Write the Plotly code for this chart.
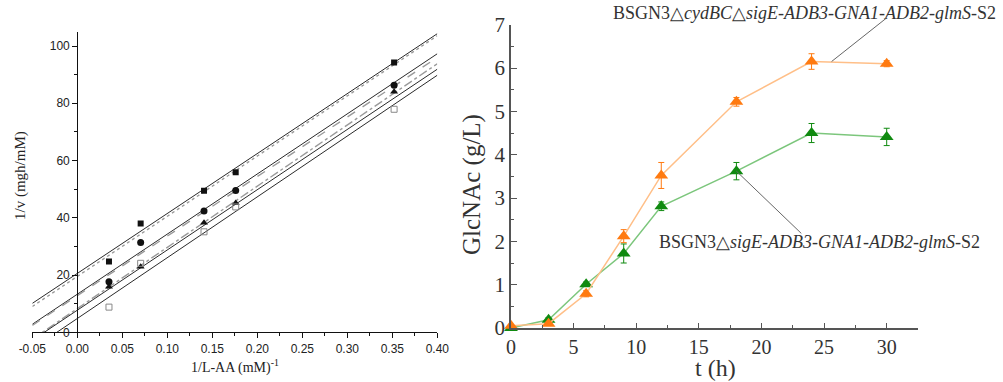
import numpy as np
import plotly.graph_objects as go

# ---------------- Left panel: Lineweaver-Burk data ----------------
inv_s = [0.0352, 0.0704, 0.1408, 0.1760, 0.3520]          # 1/L-AA (mM)^-1
inv_v_sq_fill = [24.7, 38.0, 49.4, 55.9, 94.2]            # filled squares
inv_v_circle = [17.7, 31.4, 42.4, 49.5, 86.3]              # filled circles
inv_v_triangle = [15.9, 22.9, 38.3, 45.2, 84.0]            # filled triangles
inv_v_sq_open = [8.8, 24.1, 35.1, 43.8, 77.9]              # open squares

# fitted lines, value at the left and right end of the x range
line_x = [-0.05, 0.40]
line_y_left = [10.1, 9.0, 2.8, 2.4, -2.4, -2.8, -5.8]
line_y_right = [104.3, 103.6, 97.3, 96.0, 93.8, 91.9, 89.8]
line_kind = ["solid", "dot", "solid", "dash", "dashdot", "solid", "solid"]

lb_xticks = [-0.05, 0.00, 0.05, 0.10, 0.15, 0.20, 0.25, 0.30, 0.35, 0.40]
lb_xticktext = ["-0.05", "0.00", "0.05", "0.10", "0.15", "0.20", "0.25", "0.30", "0.35", "0.40"]
lb_xminor = [-0.025, 0.025, 0.075, 0.125, 0.175, 0.225, 0.275, 0.325, 0.375]
lb_yticks = [0, 20, 40, 60, 80, 100]

# ---------------- Right panel: GlcNAc time course ----------------
t_h = [0, 3, 6, 9, 12, 18, 24, 30]
glc_cyd = [0.05, 0.10, 0.79, 2.12, 3.52, 5.22, 6.15, 6.10]
err_cyd = [0.02, 0.04, 0.07, 0.15, 0.30, 0.10, 0.18, 0.07]
glc_sig = [0.00, 0.19, 1.01, 1.72, 2.81, 3.62, 4.50, 4.41]
err_sig = [0.00, 0.05, 0.05, 0.22, 0.10, 0.20, 0.22, 0.20]

label_cyd = "BSGN3△<i>cydBC</i>△<i>sigE-ADB3-GNA1-ADB2-glmS</i>-S2"
label_sig = "BSGN3△<i>sigE-ADB3-GNA1-ADB2-glmS</i>-S2"

W, H = 1003, 382
def px(x):
    return x / W
def py(y):
    return (H - y) / H

fig = go.Figure()

# ---- left panel lines
for yl, yr, kind in zip(line_y_left, line_y_right, line_kind):
    solid = kind == "solid"
    fig.add_trace(go.Scatter(
        x=line_x, y=[yl, yr], mode="lines", xaxis="x", yaxis="y",
        line=dict(color="#2a2a2a" if solid else "#9a9a9a", width=1.0 if solid else 1.4, dash=kind),
        showlegend=False, hoverinfo="skip"))

# ---- left panel markers
fig.add_trace(go.Scatter(x=inv_s, y=inv_v_sq_fill, mode="markers", xaxis="x", yaxis="y",
                         marker=dict(symbol="square", size=6, color="#111"), showlegend=False))
fig.add_trace(go.Scatter(x=inv_s, y=inv_v_circle, mode="markers", xaxis="x", yaxis="y",
                         marker=dict(symbol="circle", size=7, color="#111"), showlegend=False))
fig.add_trace(go.Scatter(x=inv_s, y=inv_v_triangle, mode="markers", xaxis="x", yaxis="y",
                         marker=dict(symbol="triangle-up", size=7, color="#111"), showlegend=False))
fig.add_trace(go.Scatter(x=inv_s, y=inv_v_sq_open, mode="markers", xaxis="x", yaxis="y",
                         marker=dict(symbol="square-open", size=6, color="#888", line=dict(width=1)),
                         showlegend=False))

# ---- right panel series
fig.add_trace(go.Scatter(
    x=t_h, y=glc_sig, mode="lines+markers", xaxis="x2", yaxis="y2",
    line=dict(color="#7cc67c", width=1.5),
    marker=dict(symbol="triangle-up", size=12, color="#108a10"),
    error_y=dict(type="data", array=err_sig, color="#108a10", thickness=1, width=3),
    cliponaxis=False, showlegend=False))
fig.add_trace(go.Scatter(
    x=t_h, y=glc_cyd, mode="lines+markers", xaxis="x2", yaxis="y2",
    line=dict(color="#ffbf88", width=1.5),
    marker=dict(symbol="triangle-up", size=12, color="#ff7a10"),
    error_y=dict(type="data", array=err_cyd, color="#ff7a10", thickness=1, width=3),
    cliponaxis=False, showlegend=False))

serif = "Liberation Serif"
sans = "Liberation Sans"

fig.update_layout(
    width=W, height=H, margin=dict(l=0, r=0, t=0, b=0),
    paper_bgcolor="white", plot_bgcolor="white", showlegend=False,
    xaxis=dict(domain=[px(32.3), px(437.3)], range=[-0.05, 0.40], anchor="y",
               tickmode="array", tickvals=lb_xticks, ticktext=lb_xticktext,
               ticks="outside", ticklen=5, tickwidth=1, tickcolor="#111",
               minor=dict(tickmode="array", tickvals=lb_xminor, ticks="outside", ticklen=3, tickcolor="#111"),
               showline=True, linecolor="#111", linewidth=1.3, showgrid=False, zeroline=False,
               tickfont=dict(family=sans, size=12, color="#222"), automargin=False),
    yaxis=dict(domain=[py(332.3), py(31.7)], range=[0, 105], anchor="free", position=px(77.3),
               tickmode="array", tickvals=lb_yticks,
               ticks="outside", ticklen=5, tickwidth=1, tickcolor="#111",
               minor=dict(dtick=10, ticks="outside", ticklen=3, tickcolor="#111"),
               showline=True, linecolor="#111", linewidth=1.3, showgrid=False, zeroline=False,
               tickfont=dict(family=sans, size=12, color="#222"), automargin=False),
    xaxis2=dict(domain=[px(511), px(918)], range=[0, 32.5], anchor="y2",
                tickmode="array", tickvals=[0, 5, 10, 15, 20, 25, 30],
                ticks="inside", ticklen=5, tickwidth=1, tickcolor="#555",
                minor=dict(dtick=2.5, ticks="inside", ticklen=3, tickcolor="#555"),
                showline=True, linecolor="#555", linewidth=1.5, showgrid=False, zeroline=False,
                tickfont=dict(family=serif, size=20, color="#333"), automargin=False),
    yaxis2=dict(domain=[py(328), py(24.7)], range=[0, 7], anchor="x2",
                tickmode="array", tickvals=[0, 1, 2, 3, 4, 5, 6, 7],
                ticks="inside", ticklen=6, tickwidth=1, tickcolor="#555",
                minor=dict(dtick=0.5, ticks="inside", ticklen=3, tickcolor="#555"),
                showline=True, linecolor="#555", linewidth=1.5, showgrid=False, zeroline=False,
                tickfont=dict(family=serif, size=21, color="#333"), automargin=False),
)

def title(text, x, y, size, angle=0, color="#222"):
    return dict(text=text, x=px(x), y=py(y), xref="paper", yref="paper",
                xanchor="center", yanchor="middle", textangle=angle,
                showarrow=False, font=dict(family=serif, size=size, color=color))

annotations = [
    title("1/v (mgh/mM)", 20, 176, 15, -90),
    title("1/L-AA (mM)<sup>-1</sup>", 235, 366, 14),
    title("GlcNAc (g/L)", 472, 185, 25, -90, "#333"),
    title("t (h)", 715, 368, 24, 0, "#333"),
    dict(text=label_cyd, x=px(998), y=py(13), xref="paper", yref="paper",
         xanchor="right", yanchor="middle",
         showarrow=False, font=dict(family=serif, size=18, color="#333")),
    dict(text=label_sig, x=px(657), y=py(242), xref="paper", yref="paper",
         xanchor="left", yanchor="middle",
         showarrow=False, font=dict(family=serif, size=18, color="#333")),
    # connector lines
    dict(text="", x=25.6, y=6.15, xref="x2", yref="y2", ax=30.1, ay=7.18, axref="x2", ayref="y2",
         showarrow=True, arrowhead=0, arrowwidth=1, arrowcolor="#666", standoff=0),
    dict(text="", x=18, y=3.62, xref="x2", yref="y2", ax=23.3, ay=2.15, axref="x2", ayref="y2",
         showarrow=True, arrowhead=0, arrowwidth=1, arrowcolor="#666", standoff=0),
]
fig.update_layout(annotations=annotations)

fig.write_html("out.html")
